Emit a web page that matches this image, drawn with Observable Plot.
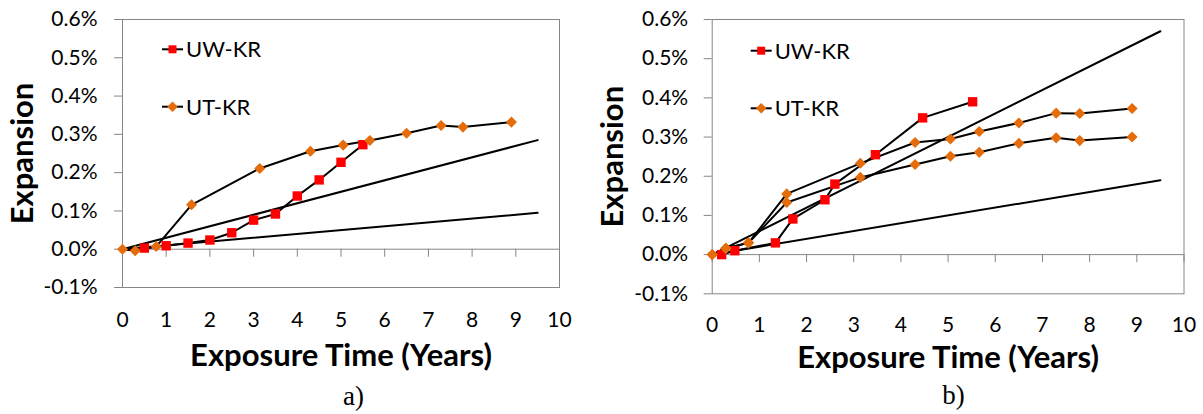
<!DOCTYPE html>
<html><head><meta charset="utf-8">
<script src="https://cdn.jsdelivr.net/npm/d3@7"></script>
<script src="https://cdn.jsdelivr.net/npm/@observablehq/plot@0.6"></script>
<style>
body{margin:0;background:#fff;}
#wrap{position:relative;width:1203px;height:414px;overflow:hidden;background:#fff;}
#a{position:absolute;left:0;top:0;}
#b{position:absolute;left:590px;top:0;}
</style></head><body><div id="wrap"><div id="a"></div><div id="b"></div></div>
<script>
// ---- data (expansion in %) ----
const xTicks = [0,1,2,3,4,5,6,7,8,9,10];
const yTicks = [-0.1,0,0.1,0.2,0.3,0.4,0.5,0.6];
const seriesNames = ["UW-KR","UT-KR"];
const xTitle = "Exposure Time (Years)";
const yTitle = "Expansion";

const utTime = [0,0.29,0.77,1.58,3.14,4.3,5.05,5.66,6.5,7.29,7.79,8.9];
const refTime = [0,9.5];

// chart a)
const aUwTime = [0.5,1,1.5,2,2.5,3,3.5,4,4.5,5,5.5];
const aUwExp  = [0.003,0.009,0.016,0.024,0.043,0.076,0.092,0.139,0.181,0.227,0.273];
const aUtExp  = [0,-0.004,0.007,0.116,0.211,0.256,0.272,0.284,0.303,0.323,0.319,0.332];
const aRefLow  = [0,0.095];
const aRefHigh = [0,0.285];

// chart b)
const bUwTime = [0.2,0.48,1.34,1.71,2.39,2.6,3.46,4.46,5.52];
const bUwExp  = [0,0.01,0.03,0.091,0.14,0.18,0.255,0.349,0.39];
const bUt1Exp = [0,0.016,0.03,0.155,0.233,0.286,0.295,0.314,0.336,0.361,0.36,0.373];
const bUt2Exp = [0,0.016,0.03,0.133,0.197,0.23,0.251,0.261,0.284,0.298,0.291,0.30];
const bRefLow  = [0,0.19];
const bRefHigh = [0,0.57];

const RED = "#FF0000", ORANGE = "#E46C0A", GRAY = "#868686";
const pts = (xs, ys) => xs.map((x,i) => ({x, y: ys[i]}));

function chart(o){
  const uw = pts(o.uwTime, o.uwExp);
  const uts = o.utExps.map(e => pts(utTime, e));
  const refs = o.refs.map(r => pts(refTime, r));
  const marks = [
    Plot.frame({stroke: GRAY}),
    Plot.ruleY([0], {stroke: GRAY}),
    Plot.ruleX(xTicks, {x: d => d, y1: 0, y2: 0, insetBottom: -8, stroke: GRAY}),
    Plot.axisY(yTicks, {tickSize: 8, tickPadding: o.yPad, stroke: GRAY, fontSize: 21, tickFormat: d => d.toFixed(1) + "%", label: null}),
    Plot.axisX(xTicks, {tickSize: 0, tickPadding: o.xPad, fontSize: 21, tickFormat: d => String(d), label: null}),
    ...refs.map(r => Plot.line(r, {x: "x", y: "y", stroke: "black", strokeWidth: 2})),
    Plot.line(uw, {x: "x", y: "y", stroke: "black", strokeWidth: 2}),
    ...uts.map(u => Plot.line(u, {x: "x", y: "y", stroke: "black", strokeWidth: 2})),
    Plot.dot(uw, {x: "x", y: "y", symbol: "square", r: 5.3, fill: RED}),
    ...uts.map(u => Plot.dot(u, {x: "x", y: "y", symbol: "diamond2", r: 5, fill: ORANGE})),
    Plot.text([xTitle], {frameAnchor: "bottom", textAnchor: "middle", lineAnchor: "middle", dy: o.xtDy, fontSize: 31, fontWeight: "bold"}),
    Plot.text([yTitle], {frameAnchor: "left", textAnchor: "middle", lineAnchor: "middle", rotate: -90, dx: o.ytDx, fontSize: 31, fontWeight: "bold"}),
    Plot.text([o.caption], {frameAnchor: "bottom", textAnchor: "middle", lineAnchor: "middle", dy: o.capDy, dx: o.capDx, fontSize: 27, fontFamily: "Liberation Serif"})
  ];
  const svg = Plot.plot({
    width: o.width, height: 414,
    marginLeft: o.ml, marginRight: o.mr, marginTop: 19, marginBottom: o.mb,
    x: {domain: [0,10], axis: null},
    y: {domain: [-0.1,0.6], axis: null},
    style: {fontFamily: "Lato", fontSize: "21px", color: "black", background: "white"},
    marks
  });
  // legend inside plot area
  const g = d3.select(svg).append("g");
  const items = [{name: seriesNames[0], y: o.legY[0], sym: d3.symbolSquare, size: 64, color: RED},
                 {name: seriesNames[1], y: o.legY[1], sym: d3.symbolDiamond2, size: 70, color: ORANGE}];
  for (const it of items) {
    const lx = o.ml + o.legX;
    g.append("line").attr("x1", lx).attr("x2", lx + 21).attr("y1", it.y).attr("y2", it.y)
      .attr("stroke", "black").attr("stroke-width", 2);
    g.append("path").attr("d", d3.symbol(it.sym, it.size)()).attr("transform", `translate(${lx + 10.5},${it.y})`)
      .attr("fill", it.color);
    g.append("text").attr("x", lx + 24).attr("y", it.y).attr("dy", "0.36em").attr("text-anchor", "start")
      .attr("font-family", "Lato").attr("font-size", 22).attr("fill", "black").text(it.name);
  }
  return svg;
}

document.getElementById("a").append(chart({
  width: 590, ml: 122, mr: 31, mb: 127, yPad: 17, xPad: 25,
  uwTime: aUwTime, uwExp: aUwExp, utExps: [aUtExp], refs: [aRefLow, aRefHigh],
  xtDy: 69, ytDx: -99.9, capDy: 108.4, capDx: 12.5, caption: "a)",
  legX: 40, legY: [49.3, 106.7]
}));
document.getElementById("b").append(chart({
  width: 613, ml: 121.7, mr: 19.5, mb: 120.7, yPad: 16, xPad: 23,
  uwTime: bUwTime, uwExp: bUwExp, utExps: [bUt1Exp, bUt2Exp], refs: [bRefLow, bRefHigh],
  xtDy: 64, ytDx: -99.6, capDy: 102, capDx: 5.4, caption: "b)",
  legX: 39, legY: [50.7, 108.3]
}));
</script></body></html>
